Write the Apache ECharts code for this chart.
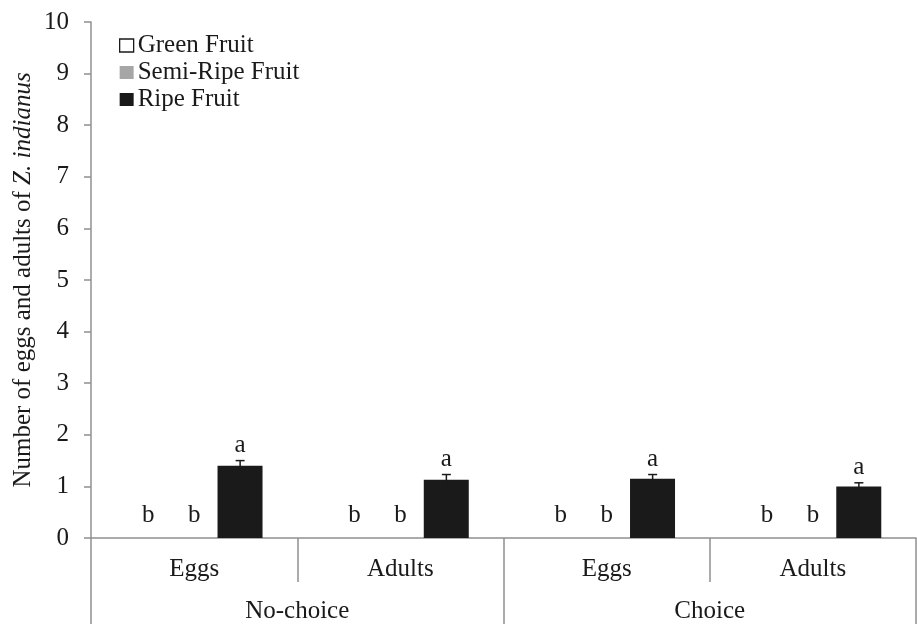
<!DOCTYPE html>
<html>
<head>
<meta charset="utf-8">
<script src="https://cdn.jsdelivr.net/npm/echarts@6/dist/echarts.min.js"></script>
<style>html,body{margin:0;padding:0;background:#fff}#c{width:917px;height:624px}</style>
</head>
<body>
<div id="c"></div>
<script>
var categories = ['Eggs', 'Adults', 'Eggs', 'Adults'];
var groups = ['No-choice', 'Choice'];
var seriesNames = ['Green Fruit', 'Semi-Ripe Fruit', 'Ripe Fruit'];
var greenValues = [0, 0, 0, 0];
var semiValues = [0, 0, 0, 0];
var ripeValues = [1.40, 1.13, 1.15, 1.00];
var ripeErrors = [0.10, 0.10, 0.08, 0.07];
var greenLetters = ['b', 'b', 'b', 'b'];
var semiLetters = ['b', 'b', 'b', 'b'];
var ripeLetters = ['a', 'a', 'a', 'a'];
var yTicks = [0, 1, 2, 3, 4, 5, 6, 7, 8, 9, 10];

var FONT = 'Liberation Serif';
var FS = 25;
var TXT = '#1a1a1a';
var AX = '#909090';
var BW = 45, GAP = 1;

var chart = echarts.init(document.getElementById('c'));
var letterLabel = function (arr) {
  return {
    show: true, position: 'top', distance: 10,
    fontFamily: FONT, fontSize: FS, color: TXT,
    formatter: function (p) { return arr[p.dataIndex]; }
  };
};
chart.setOption({
  animation: false,
  backgroundColor: '#fff',
  grid: { left: 91, right: 1, top: 22, bottom: 86 },
  legend: {
    orient: 'vertical', left: 119, top: 33, padding: 0,
    itemWidth: 14, itemHeight: 13, itemGap: 2,
    icon: 'rect',
    textStyle: { fontFamily: FONT, fontSize: FS, color: TXT, padding: [0, 0, 0, -1] },
    data: [
      { name: seriesNames[0], itemStyle: { color: '#ffffff', borderColor: '#1a1a1a', borderWidth: 1.3 } },
      { name: seriesNames[1] },
      { name: seriesNames[2] }
    ]
  },
  graphic: [{
    type: 'text', x: 23, y: 280, rotation: Math.PI / 2,
    style: {
      text: '{n|Number of eggs and adults of }{i|Z. indianus}',
      align: 'center', verticalAlign: 'middle',
      rich: {
        n: { fontFamily: FONT, fontSize: FS, fill: TXT },
        i: { fontFamily: FONT, fontSize: FS, fontStyle: 'italic', fill: TXT }
      }
    }
  }],
  xAxis: [{
    type: 'category', data: categories, position: 'bottom',
    axisLine: { lineStyle: { color: AX, width: 1.5 } },
    axisTick: { show: true, length: 44, lineStyle: { color: AX, width: 1.5 } },
    axisLabel: { fontFamily: FONT, fontSize: FS, color: TXT, margin: 19 }
  }, {
    type: 'category', data: groups, position: 'bottom',
    axisLine: { show: false },
    axisTick: { show: true, length: 86, lineStyle: { color: AX, width: 1.5 } },
    axisLabel: { fontFamily: FONT, fontSize: FS, color: TXT, margin: 61 }
  }],
  yAxis: {
    type: 'value', min: 0, max: 10, interval: 1,
    axisLine: { show: true, lineStyle: { color: AX, width: 1.5 } },
    axisTick: { show: true, length: 7, lineStyle: { color: AX, width: 1.5 } },
    axisLabel: { fontFamily: FONT, fontSize: FS, color: TXT, margin: 22,
      formatter: function (v) { return yTicks.indexOf(v) >= 0 ? String(v) : ''; } },
    splitLine: { show: false }
  },
  series: [{
    name: seriesNames[0], type: 'bar', data: greenValues, barWidth: BW, barGap: '2%',
    itemStyle: { color: '#ffffff', borderWidth: 0 },
    label: letterLabel(greenLetters)
  }, {
    name: seriesNames[1], type: 'bar', data: semiValues, barWidth: BW, barGap: '2%',
    itemStyle: { color: '#a6a6a6' },
    label: letterLabel(semiLetters)
  }, {
    name: seriesNames[2], type: 'bar', data: ripeValues, barWidth: BW, barGap: '2%',
    itemStyle: { color: '#1a1a1a' }
  }, {
    type: 'custom', name: 'err', silent: true,
    data: ripeValues.map(function (v, i) { return [i, v, ripeErrors[i]]; }),
    renderItem: function (params, api) {
      var i = api.value(0), v = api.value(1), e = api.value(2);
      var top = api.coord([i, v + e]);
      var bot = api.coord([i, v - e]);
      var x = top[0] + BW + GAP;
      return {
        type: 'group',
        children: [
          { type: 'line', shape: { x1: x, y1: top[1], x2: x, y2: bot[1] }, style: { stroke: '#1a1a1a', lineWidth: 1.5 } },
          { type: 'line', shape: { x1: x - 4.5, y1: top[1], x2: x + 4.5, y2: top[1] }, style: { stroke: '#1a1a1a', lineWidth: 1.5 } },
          { type: 'text', x: x, y: top[1] - 3, style: { text: ripeLetters[params.dataIndex], align: 'center', verticalAlign: 'bottom', fontFamily: FONT, fontSize: FS, fill: TXT } }
        ]
      };
    },
    z: 10
  }]
});
</script>
</body>
</html>
